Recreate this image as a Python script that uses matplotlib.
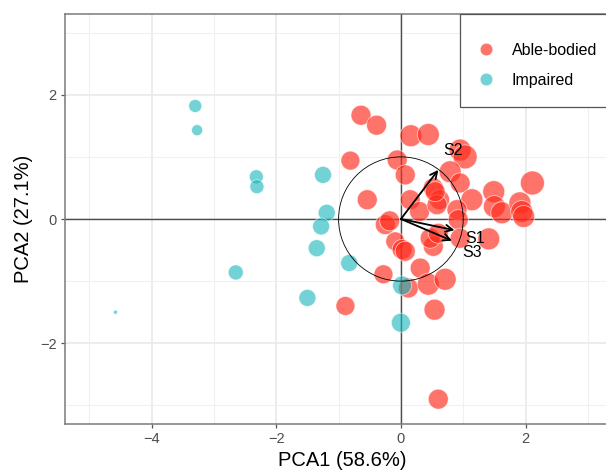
import matplotlib
matplotlib.use("Agg")
import matplotlib.pyplot as plt
from matplotlib.patches import Circle, Rectangle, FancyArrowPatch
from matplotlib.lines import Line2D

plt.rcParams['font.family'] = ['Liberation Sans', 'DejaVu Sans']

# PCA scores
able_x = [-0.64, -0.39, 0.16, 0.44, 0.95, 1.03, -0.81, -0.06, 0.07, -0.54,
          0.15, 0.30, 0.52, 0.62, 0.58, 0.79, 0.95, 1.14, 0.90, 1.49,
          1.50, 1.62, 1.91, 1.94, 1.97, 2.11, 1.41, 0.92, 0.95, -0.25,
          -0.18, -0.09, 0.02, 0.07, 0.31, -0.28, 0.12, 0.44, 0.71, 0.52,
          0.47, 0.60, -0.89, 0.54, 0.60, 0.55]
able_y = [1.67, 1.51, 1.34, 1.36, 1.11, 1.00, 0.94, 0.95, 0.71, 0.31,
          0.31, 0.12, 0.50, 0.31, 0.23, 0.76, 0.58, 0.31, 0.15, 0.44,
          0.20, 0.10, 0.26, 0.12, 0.04, 0.58, -0.32, -0.01, -0.31, -0.09,
          -0.03, -0.36, -0.49, -0.52, -0.79, -0.89, -1.11, -1.05, -0.97, -0.44,
          -0.31, -0.23, -1.40, -1.46, -2.90, 0.44]
able_size = [20, 20, 22, 22, 22, 24, 19, 20, 20, 20,
             20, 20, 20, 20, 20, 22, 20, 22, 20, 22,
             22, 22, 22, 22, 22, 24, 22, 20, 20, 20,
             20, 19, 20, 20, 20, 19, 20, 22, 22, 20,
             20, 20, 19, 21, 20, 20]

imp_x = [-3.30, -3.27, -2.32, -2.31, -1.25, -1.19, -1.28, -1.35, -0.83, -1.50,
         -2.65, -4.58, 0.02, 0.00]
imp_y = [1.82, 1.43, 0.68, 0.52, 0.71, 0.10, -0.12, -0.47, -0.71, -1.27,
         -0.86, -1.50, -1.07, -1.67]
imp_size = [13, 11, 14, 14, 17, 17, 17, 17, 17, 17,
            15, 4, 19, 19]

# loadings
load_names = ['S1', 'S2', 'S3']
load_x = [0.86, 0.60, 0.82]
load_y = [-0.18, 0.79, -0.35]

red = '#FF2A1A'
cyan = '#14B4BA'

fig = plt.figure(figsize=(6.06, 4.73), dpi=100)
W, H = 606, 473
ax = fig.add_axes([65 / W, 49 / H, 554 / W, 410 / H])
ax.set_xlim(-5.39, 3.5)
ax.set_ylim(-3.3, 3.3)

ax.set_xticks([-4, -2, 0, 2])
ax.set_yticks([-2, 0, 2])
ax.set_xticks([-5, -3, -1, 1, 3], minor=True)
ax.set_yticks([-3, -1, 1, 3], minor=True)
ax.set_xticklabels(['\u22124', '\u22122', '0', '2'])
ax.set_yticklabels(['\u22122', '0', '2'])
ax.grid(True, which='major', color='#EBEBEB', lw=1.3, zorder=0)
ax.grid(True, which='minor', color='#F0F0F0', lw=0.8, zorder=0)
ax.set_axisbelow(True)
ax.tick_params(which='major', length=3, width=0.9, color='#555555',
               labelsize=10.5, labelcolor='#4D4D4D', pad=3)
ax.tick_params(which='minor', length=0)
for s in ax.spines.values():
    s.set_color('#7A7A7A')
    s.set_linewidth(1.1)

ax.axhline(0, color='#4D4D4D', lw=1.0, zorder=1)
ax.axvline(0, color='#4D4D4D', lw=1.0, zorder=1)

px = 0.72  # points per pixel at 100 dpi
ax.scatter(able_x, able_y, s=[(d * px) ** 2 for d in able_size], c=red,
           alpha=0.65, edgecolors='white', linewidths=0.6, zorder=2)
ax.scatter(imp_x, imp_y, s=[(d * px) ** 2 for d in imp_size], c=cyan,
           alpha=0.6, edgecolors='white', linewidths=0.6, zorder=2)

ax.add_patch(Circle((0, 0), 1.0, fill=False, ec='black', lw=0.6, zorder=3))
for name, lx, ly in zip(load_names, load_x, load_y):
    ax.add_patch(FancyArrowPatch((0, 0), (lx, ly), arrowstyle='->,head_length=5,head_width=2.5',
                                 color='black', lw=1.3, zorder=4, shrinkA=0, shrinkB=0))
lab_off = {'S1': (1.19, -0.31), 'S2': (0.84, 1.11), 'S3': (1.15, -0.54)}
for name in load_names:
    ax.text(*lab_off[name], name, fontsize=11.5, ha='center', va='center', zorder=5)

ax.set_xlabel('PCA1 (58.6%)', fontsize=14.5, labelpad=3)
ax.set_ylabel('PCA2 (27.1%)', fontsize=14.5, labelpad=5)

# legend box
fig.patches.append(Rectangle((460 / W, 1 - 106.7 / H), 200 / W, 92.7 / H,
                             transform=fig.transFigure, fill=True, fc='white',
                             ec='#555555', lw=0.9, zorder=10))
handles = [Line2D([], [], ls='', marker='o', ms=12.5 * px, mfc=red, mec='white', mew=0.5, alpha=0.65),
           Line2D([], [], ls='', marker='o', ms=12.5 * px, mfc=cyan, mec='white', mew=0.5, alpha=0.6)]
leg = fig.legend(handles, ['Able-bodied', 'Impaired'], loc='center left',
                 bbox_to_anchor=(478 / W, 1 - 65.5 / H), frameon=False,
                 fontsize=11.5, handlelength=1.0, handletextpad=1.1,
                 labelspacing=0.95, borderpad=0, borderaxespad=0)
leg.set_zorder(11)

fig.savefig('out.png', dpi=100)
